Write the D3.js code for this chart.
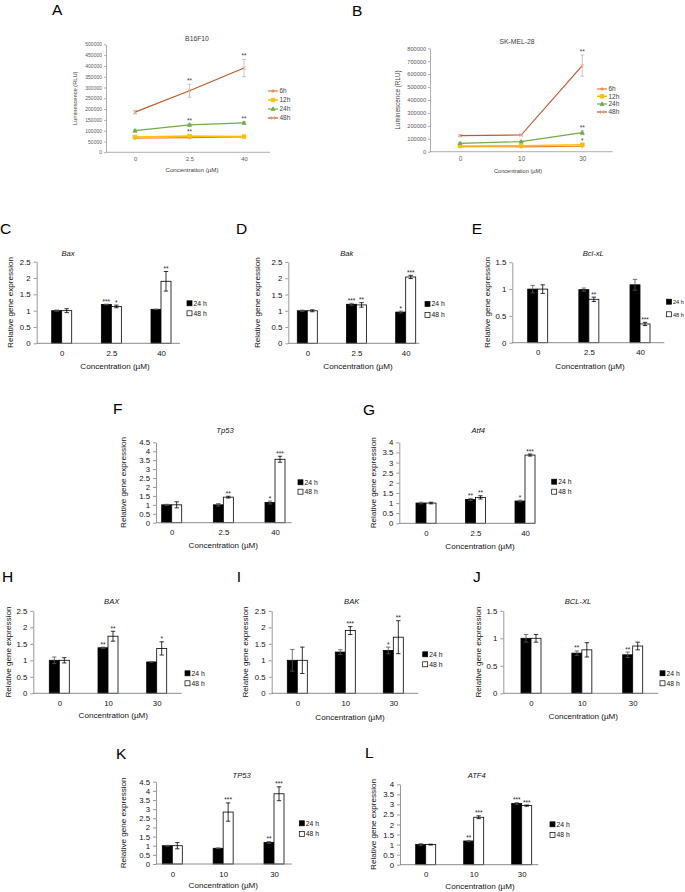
<!DOCTYPE html>
<html><head><meta charset="utf-8">
<script src="https://cdn.jsdelivr.net/npm/d3@7"></script>
<style>body{margin:0;background:#fff}svg{display:block;font-family:"Liberation Sans",Arial,sans-serif}</style>
</head><body><svg id="c" width="685" height="892"></svg>
<script>
// ---------- DATA ----------
const concMouse = ["0", "2.5", "40"];
const concHuman = ["0", "10", "30"];
const lumSeries = ["6h", "12h", "24h", "48h"];
const timePoints = ["24 h", "48 h"];

// A: B16F10 luminescence (RLU)
const b16_6h = [65000, 68000, 71000];
const b16_12h = [71000, 75000, 73000];
const b16_24h = [100000, 127000, 136000];
const b16_48h = [186000, 285000, 390000];
const b16_6hErr = [3000, 3000, 3000];
const b16_12hErr = [4000, 4000, 3000];
const b16_24hErr = [4000, 5000, 5000];
const b16_48hErr = [8000, 30000, 40000];
const b16_6hSig = ["", "", ""];
const b16_12hSig = ["", "**", ""];
const b16_24hSig = ["", "**", "**"];
const b16_48hSig = ["", "**", "**"];
const b16Ticks = [0, 50000, 100000, 150000, 200000, 250000, 300000, 350000, 400000, 450000, 500000];

// B: SK-MEL-28 luminescence (RLU)
const sk_6h = [40000, 38000, 42000];
const sk_12h = [44000, 47000, 54000];
const sk_24h = [65000, 78000, 147000];
const sk_48h = [124000, 129000, 666000];
const sk_6hErr = [3000, 3000, 3000];
const sk_12hErr = [4000, 4000, 8000];
const sk_24hErr = [5000, 5000, 15000];
const sk_48hErr = [8000, 6000, 82000];
const sk_6hSig = ["", "", ""];
const sk_12hSig = ["", "", "*"];
const sk_24hSig = ["", "", "**"];
const sk_48hSig = ["", "", "**"];
const skTicks = [0, 100000, 200000, 300000, 400000, 500000, 600000, 700000, 800000];

// C-G: mouse genes; H-L: human genes (relative expression)
const baxM24 = [1.0, 1.19, 1.04], baxM24Err = [0.02, 0.01, 0.01], baxM24Sig = ["", "***", ""];
const baxM48 = [1.0, 1.13, 1.9], baxM48Err = [0.06, 0.04, 0.3], baxM48Sig = ["", "*", "**"];
const bakM24 = [1.0, 1.2, 0.96], bakM24Err = [0.02, 0.03, 0.03], bakM24Sig = ["", "***", "*"];
const bakM48 = [1.0, 1.18, 2.04], bakM48Err = [0.03, 0.07, 0.05], bakM48Sig = ["", "**", "***"];
const bclM24 = [1.0, 0.99, 1.08], bclM24Err = [0.07, 0.03, 0.1], bclM24Sig = ["", "", ""];
const bclM48 = [1.0, 0.81, 0.35], bclM48Err = [0.08, 0.04, 0.03], bclM48Sig = ["", "**", "***"];
const tp53M24 = [1.0, 1.0, 1.13], tp53M24Err = [0.03, 0.07, 0.08], tp53M24Sig = ["", "", "*"];
const tp53M48 = [1.0, 1.43, 3.55], tp53M48Err = [0.17, 0.05, 0.17], tp53M48Sig = ["", "**", "***"];
const atf4M24 = [1.0, 1.18, 1.1], atf4M24Err = [0.04, 0.05, 0.04], atf4M24Sig = ["", "**", "*"];
const atf4M48 = [1.0, 1.28, 3.37], atf4M48Err = [0.04, 0.08, 0.05], atf4M48Sig = ["", "**", "***"];
const baxH24 = [1.0, 1.38, 0.95], baxH24Err = [0.1, 0.02, 0.01], baxH24Sig = ["", "**", ""];
const baxH48 = [1.0, 1.73, 1.36], baxH48Err = [0.08, 0.15, 0.2], baxH48Sig = ["", "**", "*"];
const bakH24 = [1.0, 1.25, 1.3], bakH24Err = [0.33, 0.07, 0.1], bakH24Sig = ["", "", "*"];
const bakH48 = [1.0, 1.9, 1.7], bakH48Err = [0.4, 0.12, 0.5], bakH48Sig = ["", "***", "**"];
const bclH24 = [1.0, 0.73, 0.70], bclH24Err = [0.07, 0.04, 0.05], bclH24Sig = ["", "**", "**"];
const bclH48 = [1.0, 0.79, 0.86], bclH48Err = [0.07, 0.13, 0.07], bclH48Sig = ["", "", ""];
const tp53H24 = [1.0, 0.86, 1.18], tp53H24Err = [0.02, 0.02, 0.05], tp53H24Sig = ["", "", "**"];
const tp53H48 = [1.0, 2.84, 3.84], tp53H48Err = [0.17, 0.5, 0.38], tp53H48Sig = ["", "***", "***"];
const atf4H24 = [1.0, 1.18, 3.05], atf4H24Err = [0.05, 0.03, 0.04], atf4H24Sig = ["", "**", "***"];
const atf4H48 = [1.0, 2.36, 2.94], atf4H48Err = [0.02, 0.07, 0.03], atf4H48Sig = ["", "***", "***"];

// ---------- DRAWING ----------
const svg = d3.select("#c");
const FONT = '"Liberation Sans",Arial,sans-serif';

function panelLabel(t, x, y) {
  svg.append("text").attr("x", x).attr("y", y).attr("font-size", 15.5).attr("fill", "#000").text(t);
}

function markerPath(type, cx, cy, s) {
  if (type === "square") return `M${cx - s},${cy - s}h${2 * s}v${2 * s}h${-2 * s}Z`;
  if (type === "triangle") return `M${cx},${cy - s * 1.2}L${cx + s * 1.1},${cy + s * 0.8}L${cx - s * 1.1},${cy + s * 0.8}Z`;
  if (type === "x") return `M${cx - s},${cy - s}L${cx + s},${cy + s}M${cx - s},${cy + s}L${cx + s},${cy - s}`;
  return `M${cx - s},${cy}L${cx + s},${cy}M${cx},${cy - s}L${cx},${cy + s}`; // plus
}

function linePanel(cfg) {
  const g = svg.append("g");
  const x = d3.scalePoint().domain(cfg.cats).range([cfg.c0, cfg.c2]);
  const y = d3.scaleLinear().domain([0, d3.max(cfg.ticks)]).range([cfg.yBot, cfg.yTop]);
  const ya = d3.axisLeft(y).tickValues(cfg.ticks).tickSize(2).tickSizeOuter(0).tickPadding(2).tickFormat(d3.format("d"));
  const yg = g.append("g").attr("transform", `translate(${cfg.ax0},0)`).call(ya);
  yg.selectAll("path,line").attr("stroke", "#8c8c8c").attr("stroke-width", 0.7);
  yg.selectAll("text").attr("font-size", cfg.tfs).attr("fill", "#595959").attr("font-family", FONT);
  g.append("line").attr("x1", cfg.ax0).attr("x2", cfg.ax1).attr("y1", cfg.yBot).attr("y2", cfg.yBot)
    .attr("stroke", "#8c8c8c").attr("stroke-width", 0.7);
  const xa = d3.axisBottom(x).tickSize(0).tickPadding(cfg.xpad);
  const xg = g.append("g").attr("transform", `translate(0,${cfg.yBot})`).call(xa);
  xg.select(".domain").remove();
  xg.selectAll("text").attr("font-size", cfg.tfs + 0.8).attr("fill", "#595959").attr("font-family", FONT);

  cfg.series.forEach(s => {
    const pts = s.vals.map((v, i) => [x(cfg.cats[i]), y(v)]);
    s.vals.forEach((v, i) => {
      const cx = x(cfg.cats[i]);
      const y1 = y(v + s.errs[i]), y0 = y(v - s.errs[i]);
      g.append("path").attr("d", `M${cx},${y0}V${y1}M${cx - 2},${y0}h4M${cx - 2},${y1}h4`)
        .attr("stroke", "#b0b0b0").attr("stroke-width", 0.7).attr("fill", "none");
    });
    g.append("path").attr("d", d3.line()(pts)).attr("fill", "none").attr("stroke", s.color).attr("stroke-width", s.width);
    pts.forEach(p => {
      g.append("path").attr("d", markerPath(s.marker, p[0], p[1], 1.8))
        .attr("fill", s.marker === "x" || s.marker === "plus" ? "none" : s.mcolor)
        .attr("stroke", s.mcolor).attr("stroke-width", 0.8);
    });
    s.sig.forEach((t, i) => {
      if (!t) return;
      g.append("text").attr("x", x(cfg.cats[i])).attr("y", y(s.vals[i] + s.errs[i]) - 1)
        .attr("text-anchor", "middle").attr("font-size", 6.5).attr("fill", "#404040").text(t);
    });
  });
  cfg.series.forEach((s, i) => {
    const ly = cfg.legY[i];
    g.append("line").attr("x1", cfg.legX).attr("x2", cfg.legX + 10).attr("y1", ly).attr("y2", ly)
      .attr("stroke", s.color).attr("stroke-width", s.width);
    g.append("path").attr("d", markerPath(s.marker, cfg.legX + 5, ly, 1.8))
      .attr("fill", s.marker === "x" || s.marker === "plus" ? "none" : s.mcolor)
      .attr("stroke", s.mcolor).attr("stroke-width", 0.8);
    g.append("text").attr("x", cfg.legX + 11.5).attr("y", ly + 2.3).attr("font-size", cfg.lfs)
      .attr("fill", "#404040").text(s.name);
  });
  g.append("text").attr("x", cfg.title[0]).attr("y", cfg.title[1] + 2.3).attr("text-anchor", "middle")
    .attr("font-size", 6.8).attr("fill", "#404040").text(cfg.titleText);
  g.append("text").attr("transform", `translate(${cfg.yLabX},${(cfg.yTop + cfg.yBot) / 2}) rotate(-90)`)
    .attr("text-anchor", "middle").attr("dy", "0.35em").attr("font-size", cfg.yfs).attr("fill", "#404040").text("Luminescence (RLU)");
  g.append("text").attr("x", cfg.xLab[0]).attr("y", cfg.xLab[1] + 2.2).attr("text-anchor", "middle")
    .attr("font-size", cfg.xfs).attr("fill", "#404040").text("Concentration (\u00b5M)");
}

function barPanel(cfg) {
  const g = svg.append("g");
  const x = d3.scalePoint().domain(cfg.cats).range([cfg.c0, cfg.c2]);
  const sub = d3.scaleBand().domain(timePoints).range([-10, 10]);
  const y = d3.scaleLinear().domain([0, cfg.yMax]).range([cfg.yBot, cfg.yTop]);
  const ya = d3.axisLeft(y).tickValues(d3.range(0, cfg.yMax + 1e-9, 0.5)).tickSize(3).tickSizeOuter(0).tickPadding(3)
    .tickFormat(d => String(+d.toFixed(1)));
  const yg = g.append("g").attr("transform", `translate(${cfg.ax0},0)`).call(ya);
  yg.selectAll("path,line").attr("stroke", "#7f7f7f").attr("stroke-width", 0.8);
  yg.selectAll("text").attr("font-size", 7.8).attr("fill", "#111").attr("font-family", FONT);
  const xa = d3.axisBottom(x).tickSize(0).tickPadding(7);
  const xg = g.append("g").attr("transform", `translate(0,${cfg.yBot})`).call(xa);
  xg.select(".domain").remove();
  xg.selectAll("text").attr("font-size", 7.8).attr("fill", "#111").attr("font-family", FONT);

  const sets = [
    { t: timePoints[0], v: cfg.v24, e: cfg.e24, s: cfg.s24, fill: "#000" },
    { t: timePoints[1], v: cfg.v48, e: cfg.e48, s: cfg.s48, fill: "#fff" }
  ];
  sets.forEach(set => {
    set.v.forEach((v, i) => {
      const bx = x(cfg.cats[i]) + sub(set.t);
      g.append("rect").attr("x", bx).attr("y", y(v)).attr("width", sub.bandwidth()).attr("height", y(0) - y(v))
        .attr("fill", set.fill).attr("stroke", "#000").attr("stroke-width", 0.8);
    });
  });
  g.append("line").attr("x1", cfg.ax0).attr("x2", cfg.ax1).attr("y1", cfg.yBot).attr("y2", cfg.yBot)
    .attr("stroke", "#7f7f7f").attr("stroke-width", 0.9);
  sets.forEach(set => {
    set.v.forEach((v, i) => {
      const cx = x(cfg.cats[i]) + sub(set.t) + sub.bandwidth() / 2;
      const y1 = y(v + set.e[i]), y0 = y(v - set.e[i]);
      g.append("path").attr("d", `M${cx},${y0}V${y1}M${cx - 2.2},${y0}h4.4M${cx - 2.2},${y1}h4.4`)
        .attr("stroke", set.fill === "#000" ? "#555" : "#000").attr("stroke-width", 0.8).attr("fill", "none");
      if (set.s[i]) {
        g.append("text").attr("x", cx).attr("y", y1 - 0.5).attr("text-anchor", "middle")
          .attr("font-size", 6.5).attr("fill", "#222").text(set.s[i]);
      }
    });
  });
  const lfs = cfg.lfs || 6.8;
  sets.forEach((set, i) => {
    const ly = cfg.legY[i];
    g.append("rect").attr("x", cfg.legX).attr("y", ly - 2.5).attr("width", 5).attr("height", 5)
      .attr("fill", set.fill).attr("stroke", "#000").attr("stroke-width", 0.7);
    g.append("text").attr("x", cfg.legX + 6.5).attr("y", ly + 2.4).attr("font-size", lfs).attr("fill", "#111").text(set.t);
  });
  g.append("text").attr("x", cfg.title[0]).attr("y", cfg.title[1] + 2.6).attr("text-anchor", "middle")
    .attr("font-size", 7.6).attr("font-style", "italic").attr("fill", "#111").text(cfg.titleText);
  g.append("text").attr("transform", `translate(${cfg.yLabX},${(cfg.yTop + cfg.yBot) / 2}) rotate(-90)`)
    .attr("text-anchor", "middle").attr("dy", "0.35em").attr("font-size", 8.1).attr("fill", "#111").text("Relative gene expression");
  g.append("text").attr("x", cfg.xLab[0]).attr("y", cfg.xLab[1] + 2.8).attr("text-anchor", "middle")
    .attr("font-size", 8.1).attr("fill", "#111").text("Concentration (\u00b5M)");
}

const col6 = "#ED7D31", col12 = "#FFC000", col24 = "#70AD47", col48 = "#C0582A", mk48 = "#E8A98A";

// Panel A
panelLabel("A", 52, 15);
linePanel({
  cats: concMouse, ticks: b16Ticks, ax0: 106, ax1: 270, c0: 135, c2: 244, yTop: 44.3, yBot: 152.3,
  tfs: 5, xpad: 5, lfs: 6.5, yfs: 5.7, xfs: 6.2,
  legX: 268, legY: [91, 100, 109, 118], title: [197, 39], titleText: "B16F10", yLabX: 75, xLab: [192, 170],
  series: [
    { name: lumSeries[0], vals: b16_6h, errs: b16_6hErr, sig: b16_6hSig, color: col6, mcolor: col6, marker: "plus", width: 1.2 },
    { name: lumSeries[1], vals: b16_12h, errs: b16_12hErr, sig: b16_12hSig, color: col12, mcolor: col12, marker: "square", width: 1.5 },
    { name: lumSeries[2], vals: b16_24h, errs: b16_24hErr, sig: b16_24hSig, color: col24, mcolor: col24, marker: "triangle", width: 1.2 },
    { name: lumSeries[3], vals: b16_48h, errs: b16_48hErr, sig: b16_48hSig, color: col48, mcolor: mk48, marker: "x", width: 1.2 }
  ]
});

// Panel B
panelLabel("B", 352, 16);
linePanel({
  cats: concHuman, ticks: skTicks, ax0: 430, ax1: 612.7, c0: 460, c2: 582.3, yTop: 48.3, yBot: 151.7,
  tfs: 5.6, xpad: 5, lfs: 6.5, yfs: 6.3, xfs: 5.6,
  legX: 597, legY: [89, 96.3, 104, 112], title: [517, 41.7], titleText: "SK-MEL-28", yLabX: 398, xLab: [518, 170.7],
  series: [
    { name: lumSeries[0], vals: sk_6h, errs: sk_6hErr, sig: sk_6hSig, color: col6, mcolor: col6, marker: "plus", width: 1.2 },
    { name: lumSeries[1], vals: sk_12h, errs: sk_12hErr, sig: sk_12hSig, color: col12, mcolor: col12, marker: "square", width: 1.5 },
    { name: lumSeries[2], vals: sk_24h, errs: sk_24hErr, sig: sk_24hSig, color: col24, mcolor: col24, marker: "triangle", width: 1.2 },
    { name: lumSeries[3], vals: sk_48h, errs: sk_48hErr, sig: sk_48hSig, color: col48, mcolor: mk48, marker: "x", width: 1.2 }
  ]
});

// Bar panels
panelLabel("C", 0, 234);
barPanel({ cats: concMouse, v24: baxM24, e24: baxM24Err, s24: baxM24Sig, v48: baxM48, e48: baxM48Err, s48: baxM48Sig,
  yMax: 2.5, ax0: 36.7, ax1: 180, c0: 61.7, c2: 161, yTop: 261.7, yBot: 343.3,
  legX: 187, legY: [303.3, 313.3], title: [68, 253.3], titleText: "Bax", yLabX: 10, xLab: [115, 365.7] });

panelLabel("D", 236, 234);
barPanel({ cats: concMouse, v24: bakM24, e24: bakM24Err, s24: bakM24Sig, v48: bakM48, e48: bakM48Err, s48: bakM48Sig,
  yMax: 2.5, ax0: 288.3, ax1: 419.3, c0: 307.3, c2: 405.7, yTop: 262, yBot: 343.3,
  legX: 425, legY: [304, 315], title: [346.7, 253.3], titleText: "Bak", yLabX: 256.7, xLab: [358, 365.7] });

panelLabel("E", 471.7, 234);
barPanel({ cats: concMouse, v24: bclM24, e24: bclM24Err, s24: bclM24Sig, v48: bclM48, e48: bclM48Err, s48: bclM48Sig,
  yMax: 1.5, ax0: 512.3, ax1: 664.3, c0: 537.7, c2: 640, yTop: 262.3, yBot: 342.7,
  legX: 666.5, lfs: 5.6, legY: [301.7, 314.3], title: [593.3, 253.3], titleText: "Bcl-xL", yLabX: 486.7, xLab: [590, 365.7] });

panelLabel("F", 113, 414);
barPanel({ cats: concMouse, v24: tp53M24, e24: tp53M24Err, s24: tp53M24Sig, v48: tp53M48, e48: tp53M48Err, s48: tp53M48Sig,
  yMax: 4.5, ax0: 156, ax1: 291.7, c0: 171.7, c2: 275, yTop: 442.3, yBot: 522.7,
  legX: 298, legY: [482.3, 491.7], title: [225, 430], titleText: "Tp53", yLabX: 123.3, xLab: [223.3, 545] });

panelLabel("G", 363, 415);
barPanel({ cats: concMouse, v24: atf4M24, e24: atf4M24Err, s24: atf4M24Sig, v48: atf4M48, e48: atf4M48Err, s48: atf4M48Sig,
  yMax: 4, ax0: 399.3, ax1: 535, c0: 426, c2: 525, yTop: 442.3, yBot: 523.3,
  legX: 551.7, legY: [481.7, 491.7], title: [478.3, 430], titleText: "Atf4", yLabX: 373.3, xLab: [480, 546] });

panelLabel("H", 2, 582);
barPanel({ cats: concHuman, v24: baxH24, e24: baxH24Err, s24: baxH24Sig, v48: baxH48, e48: baxH48Err, s48: baxH48Sig,
  yMax: 2.5, ax0: 33.3, ax1: 181.7, c0: 59.3, c2: 156.7, yTop: 610.8, yBot: 693.3,
  legX: 185, legY: [673.3, 683.3], title: [111.7, 601.7], titleText: "BAX", yLabX: 8.3, xLab: [113.3, 715] });

panelLabel("I", 236.7, 582);
barPanel({ cats: concHuman, v24: bakH24, e24: bakH24Err, s24: bakH24Sig, v48: bakH48, e48: bakH48Err, s48: bakH48Sig,
  yMax: 2.5, ax0: 271.7, ax1: 418.3, c0: 297.3, c2: 393.3, yTop: 610.8, yBot: 693.3,
  legX: 422.7, legY: [654.3, 664.3], title: [351.7, 601.7], titleText: "BAK", yLabX: 245, xLab: [350, 716.7] });

panelLabel("J", 473, 582);
barPanel({ cats: concHuman, v24: bclH24, e24: bclH24Err, s24: bclH24Sig, v48: bclH48, e48: bclH48Err, s48: bclH48Sig,
  yMax: 1.5, ax0: 503.3, ax1: 658.3, c0: 531, c2: 632.7, yTop: 610.8, yBot: 693.3,
  legX: 660, legY: [673.3, 683.3], title: [578, 601.7], titleText: "BCL-XL", yLabX: 477.7, xLab: [583.3, 715.7] });

panelLabel("K", 116, 759);
barPanel({ cats: concHuman, v24: tp53H24, e24: tp53H24Err, s24: tp53H24Sig, v48: tp53H48, e48: tp53H48Err, s48: tp53H48Sig,
  yMax: 4.5, ax0: 156, ax1: 291.7, c0: 172.3, c2: 274, yTop: 781.7, yBot: 864,
  legX: 299.3, legY: [823.3, 834], title: [241.7, 775], titleText: "TP53", yLabX: 123.3, xLab: [223.3, 885] });

panelLabel("L", 365, 758);
barPanel({ cats: concHuman, v24: atf4H24, e24: atf4H24Err, s24: atf4H24Sig, v48: atf4H48, e48: atf4H48Err, s48: atf4H48Sig,
  yMax: 4, ax0: 400, ax1: 538.3, c0: 425.7, c2: 521.7, yTop: 784.3, yBot: 864.7,
  legX: 550, legY: [824.3, 835], title: [476.7, 775], titleText: "ATF4", yLabX: 373.3, xLab: [480, 886] });
</script></body></html>
